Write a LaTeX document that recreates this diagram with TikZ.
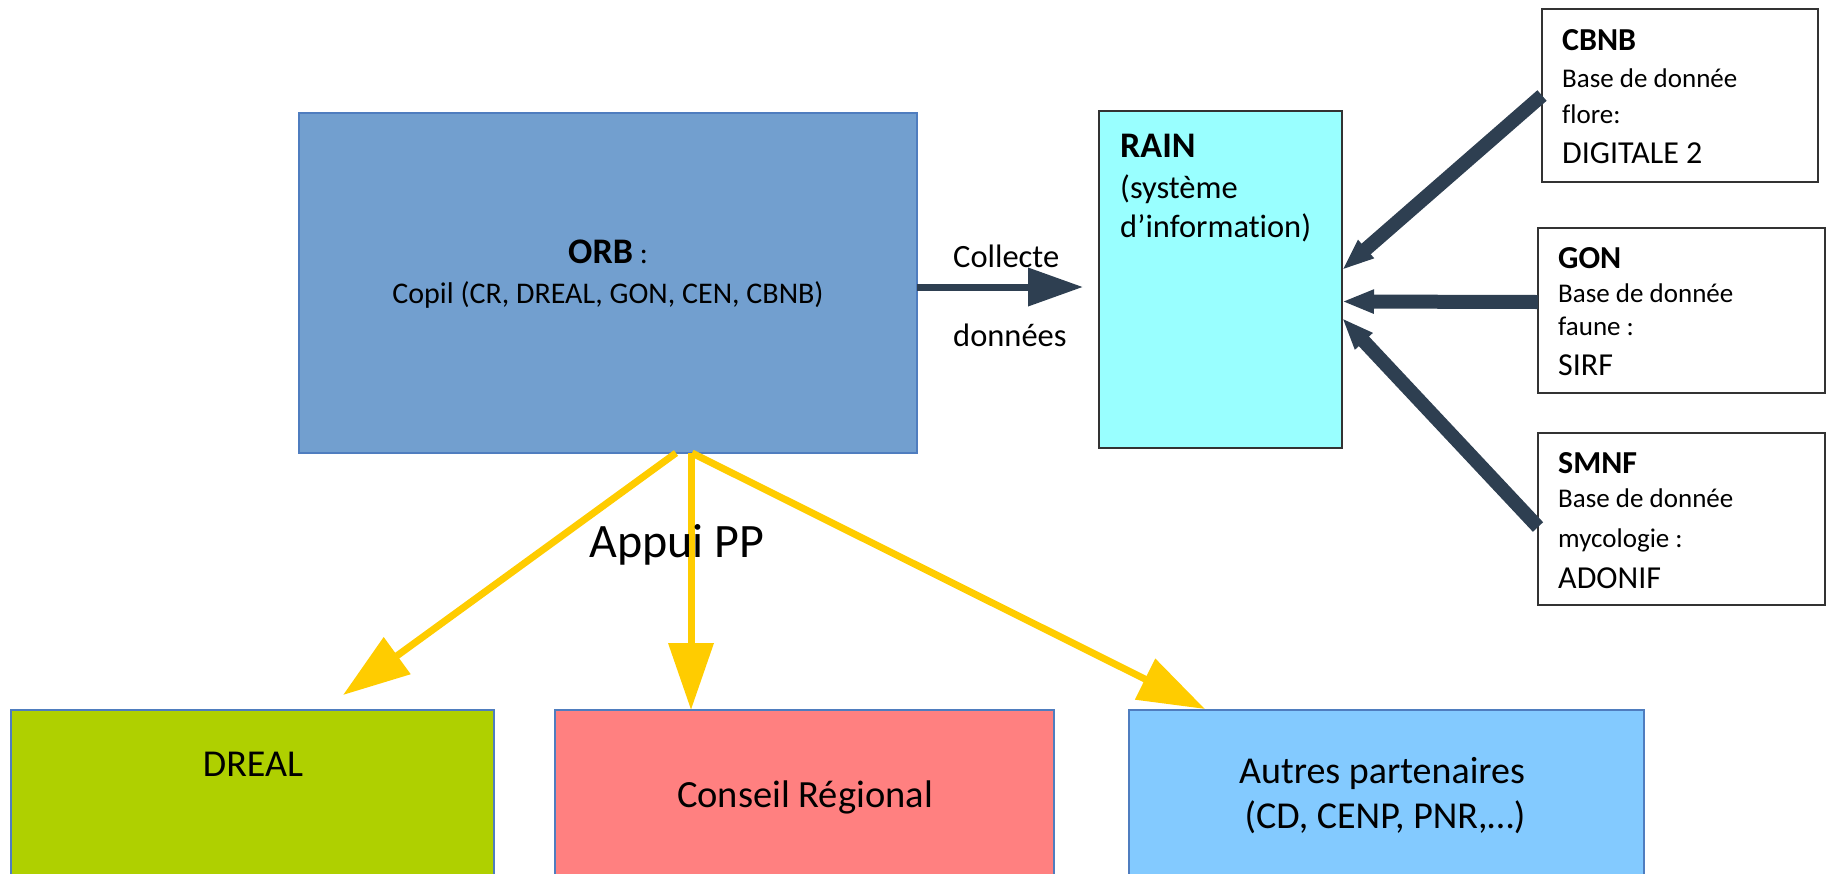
\documentclass[tikz,border=0pt]{standalone}
\usepackage{fontspec}
\setmainfont{Carlito}[Ligatures=NoCommon]
\usetikzlibrary{arrows.meta,positioning}

\definecolor{orbblue}{HTML}{729FCF}
\definecolor{orbline}{HTML}{4F7DBF}
\definecolor{raincyan}{HTML}{99FFFF}
\definecolor{dgreen}{HTML}{AFD000}
\definecolor{crred}{HTML}{FF8080}
\definecolor{partblue}{HTML}{83CAFF}
\definecolor{slate}{HTML}{2E3F51}
\definecolor{gold}{HTML}{FFCC00}

\newcommand{\fs}[1]{\fontsize{#1}{#1}\selectfont}

\begin{document}
\begin{tikzpicture}[x=1pt,y=-1pt,
    box/.style={draw, line width=1.2pt, inner sep=0pt, outer sep=0pt, anchor=north west},
    line/.style={inner sep=0pt, anchor=base west},
    midline/.style={inner sep=0pt, anchor=base},
    collect/.style={line width=7pt, draw=slate, -{Triangle[length=55pt,width=37pt]}},
    feed/.style={line width=14pt, draw=slate, -{Triangle[length=32pt,width=22pt]}},
    appui/.style={line width=7pt, draw=gold, -{Triangle[length=67pt,width=44pt]}}]
    \useasboundingbox (0,0) rectangle (1830,873);

    % ORB
    \node[box, fill=orbblue, draw=orbline, minimum width=618pt, minimum height=340pt] (orb) at (299,113) {};
    \node[midline, font=\fs{30}] (orbtitle) at (608,263) {{\fs{36}\bfseries ORB} :};
    \node[midline, font=\fs{30}] (copil) at (608,303) {Copil (CR, DREAL, GON, CEN, CBNB)};

    % RAIN
    \node[box, fill=raincyan, draw=black!80, minimum width=243pt, minimum height=337pt] (rain) at (1099,111) {};
    \node[line, font=\fs{36}\bfseries] (raintitle) at (1120,157) {RAIN};
    \node[line, font=\fs{32.5}] (rain1) at (1120,198) {(système};
    \node[line, font=\fs{32.5}] (rain2) at (1120,237) {d’information)};

    % collecte
    \node[line, font=\fs{32.5}] (collecte) at (953,267) {Collecte};
    \node[line, font=\fs{32.5}] (donnees) at (953,346) {données};
    \draw[collect, shorten >=16pt] ([yshift=-4pt]orb.east) -- ([yshift=-7.5pt]rain.west);

    % bases de donnees
    \node[box, draw=black!80, minimum width=276pt, minimum height=173pt] (cbnb) at (1542,9) {};
    \node[line, font=\fs{32}\bfseries] (cbnbtitle) at (1562,50) {CBNB};
    \node[line, font=\fs{27}] (cbnb1) at (1562,87) {Base de donnée};
    \node[line, font=\fs{27}] (cbnb2) at (1562,123) {flore:};
    \node[line, font=\fs{32}] (cbnb3) at (1562,163) {DIGITALE 2};

    \node[box, draw=black!80, minimum width=287pt, minimum height=165pt] (gon) at (1538,228) {};
    \node[line, font=\fs{32}\bfseries] (gontitle) at (1558,268) {GON};
    \node[line, font=\fs{27}] (gon1) at (1558,302) {Base de donnée};
    \node[line, font=\fs{27}] (gon2) at (1558,335) {faune :};
    \node[line, font=\fs{32}] (gon3) at (1558,375) {SIRF};

    \node[box, draw=black!80, minimum width=287pt, minimum height=172pt] (smnf) at (1538,433) {};
    \node[line, font=\fs{32}\bfseries] (smnftitle) at (1558,473) {SMNF};
    \node[line, font=\fs{27}] (smnf1) at (1558,507) {Base de donnée};
    \node[line, font=\fs{27}] (smnf2) at (1558,547) {mycologie :};
    \node[line, font=\fs{32}] (smnf3) at (1558,588) {ADONIF};

    \draw[feed] (cbnb.west) -- ([yshift=9.5pt]rain.east);
    \draw[feed] ([yshift=8.5pt]gon.west) -- ([yshift=-22pt]rain.east);
    \draw[feed] ([yshift=-8pt]smnf.west) -- ([yshift=-38.5pt]rain.east);

    % partenaires
    \node[box, fill=dgreen, draw=orbline, minimum width=483pt, minimum height=200pt] (dreal) at (11,710) {};
    \node[midline, font=\fs{38}] (drealtxt) at (253,776) {DREAL};
    \node[box, fill=crred, draw=orbline, minimum width=499pt, minimum height=200pt] (cr) at (555,710) {};
    \node[midline, font=\fs{38.5}] (crtxt) at (805,807) {Conseil Régional};
    \node[box, fill=partblue, draw=orbline, minimum width=515pt, minimum height=200pt] (autres) at (1129,710) {};
    \node[midline, font=\fs{38}] (autres1) at (1382,783) {Autres partenaires};
    \node[midline, font=\fs{38}] (autres2) at (1385,828) {(CD, CENP, PNR,…)};

    % appui PP
    \draw[appui] ([xshift=68pt]orb.south) -- ([xshift=90.5pt,yshift=15pt]dreal.north);
    \draw[appui] ([xshift=83pt]orb.south) -- ([xshift=-113.5pt]cr.north);
    \draw[appui] ([xshift=84pt]orb.south) -- ([xshift=-181.5pt,yshift=1pt]autres.north);
    \node[line, font=\fs{48}] (appuipp) at (589,557) {Appui PP};
\end{tikzpicture}
\end{document}
